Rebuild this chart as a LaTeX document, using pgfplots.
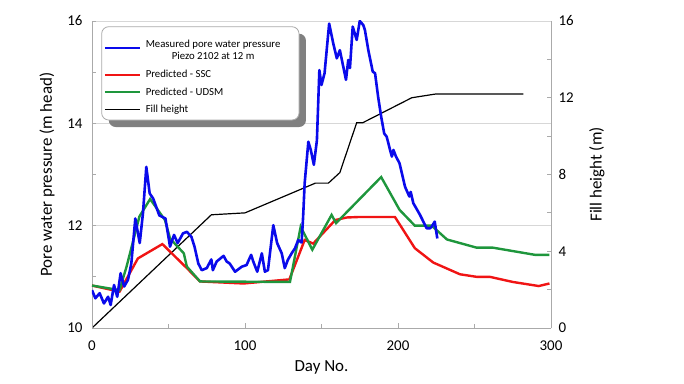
\documentclass[border=0pt]{standalone}
\usepackage{fontspec}
\setmainfont{Carlito}
\usepackage{pgfplots}
\pgfplotsset{compat=1.18}
\definecolor{meas}{RGB}{10,10,235}
\definecolor{ssc}{RGB}{240,20,20}
\definecolor{udsm}{RGB}{30,150,60}
\definecolor{axgray}{RGB}{170,170,170}
\definecolor{gridgray}{RGB}{215,215,215}
\definecolor{shadow}{RGB}{128,128,128}
\newlength\mw
\newcommand\lift[2]{\raisebox{#1}[8bp][2.5bp]{#2}}

\pgfplotsset{
  base/.style={
    scale only axis, width=459bp, height=307bp,
    at={(0,0)}, anchor=south west,
    xmin=0, xmax=300,
    tick align=inside,
    major tick length=4.5bp, minor tick length=4bp,
    axis line style={axgray, line width=0.8bp},
    every tick/.style={axgray, line width=0.8bp},
    tick label style={font=\fontsize{15}{17}\selectfont},
    label style={font=\fontsize{17}{19}\selectfont},
    /pgf/number format/assume math mode=true,
  },
  legend image code/.code={\draw[#1] (0bp,0bp) -- (35bp,0bp);},
}

\begin{document}
\begin{tikzpicture}
\path[use as bounding box] (-92bp,-56bp) rectangle (592bp,328bp);

% fill height, right axis (drawn first so it sits under the pore pressure lines)
\begin{axis}[base,
  axis y line*=right, axis x line=none,
  ymin=0, ymax=16, ytick={0,4,8,12,16}, minor y tick num=1,
  extra y ticks={5.33333,10.66667,16}, extra y tick labels={},
  extra y tick style={grid=major, major tick length=0pt, grid style={gridgray, line width=0.9bp}},
  ylabel={Fill height (m)},
  ylabel style={at={(axis description cs:1.1,0.5)}, anchor=center, rotate=0},
  yticklabel style={xshift=4bp},
]
\addplot[black, line width=1.2bp] coordinates {
(0,0)(78,5.9)(100,6.0)(146,7.55)(154.5,7.55)(162,8.1)(173,10.7)(177,10.7)
(209,12.0)(225,12.2)(282,12.2)};
\end{axis}

% pore water pressure, left axis
\begin{axis}[base,
  axis y line*=left, axis x line*=bottom,
  ymin=10, ymax=16, ytick={10,12,14,16}, minor y tick num=1,
  xtick={0,100,200,300}, minor x tick num=1,
  xlabel={Day No.}, ylabel={Pore water pressure (m head)},
  xlabel style={at={(axis description cs:0.5,-0.127)}, anchor=center},
  ylabel style={at={(axis description cs:-0.098,0.5)}, anchor=center},
  xticklabel style={yshift=-9bp},
  yticklabel style={xshift=-6bp},
  legend cell align=left,
  legend style={at={(axis description cs:0.025,0.948)}, anchor=north west,
    draw=none, fill=none,
    font=\fontsize{10.8}{12}\selectfont,
    inner xsep=0bp, inner ysep=0bp, row sep=3bp,
    nodes={inner xsep=4.5bp, inner ysep=2bp}},
]
\addlegendimage{meas, line width=2.6bp, yshift=-4bp}
\addlegendentry{\lift{0bp}{Measured pore water pressure}}
\addlegendimage{empty legend}
\addlegendentry{\settowidth\mw{Measured pore water pressure}\lift{4.5bp}{\makebox[\mw][c]{Piezo 2102 at 12 m}}}
\addlegendimage{ssc, line width=2.4bp, yshift=2bp}
\addlegendentry{\lift{2.5bp}{Predicted - SSC}}
\addlegendimage{udsm, line width=2.4bp, yshift=1.5bp}
\addlegendentry{\lift{1.5bp}{Predicted - UDSM}}
\addlegendimage{black, line width=1.2bp}
\addlegendentry{\lift{0.5bp}{Fill height}}

\addplot[ssc, line width=2.4bp, forget plot] coordinates {
(0,10.83)(18,10.71)(30,11.36)(46,11.64)(62,11.17)(70.6,10.91)(99,10.87)(129,10.95)
(139,11.72)(144.6,11.65)(159,12.11)(166.5,12.16)(175,12.17)(198,12.17)(211,11.56)
(223,11.28)(240.5,11.05)(251.4,11.0)(260,11.0)(275,10.9)(292,10.82)(299,10.87)};
\addplot[udsm, line width=2.4bp, forget plot] coordinates {
(0,10.83)(18,10.74)(22.6,11.2)(31,12.18)(38,12.52)(47.7,12.11)(51,11.75)(60,11.46)
(62,11.2)(70.6,10.91)(129.4,10.9)(136.4,11.98)(144,11.53)(156.6,12.21)(159.5,12.05)
(189,12.95)(201,12.31)(211,12.0)(222,12.0)(232,11.73)(251.4,11.57)(262,11.57)
(289.5,11.43)(299,11.43)};
\addplot[meas, line width=2.6bp, line join=round, forget plot] coordinates {
(0,10.74)(2.2,10.58)(5,10.68)(7.8,10.48)(10.5,10.61)(12.2,10.45)(14.4,10.84)(16.5,10.61)
(18.7,11.07)(21,10.81)(23.5,10.94)(25.7,11.26)(28.3,12.14)(31.2,11.66)(33.3,12.24)
(35.5,13.15)(37.7,12.63)(40,12.53)(44,12.2)(48,12.14)(51,11.59)(53.6,11.82)(56,11.66)
(59.5,11.85)(62,11.88)(65,11.78)(67,11.59)(69.5,11.26)(71.7,11.13)(75,11.17)(78,11.34)
(79,11.13)(81.5,11.3)(86,11.41)(88,11.3)(90,11.26)(93.5,11.1)(98,11.2)(101,11.23)
(104,11.43)(105.4,11.3)(108,11.1)(111,11.46)(113,11.1)(115,11.13)(118.5,12.01)
(121,11.66)(124,11.46)(126,11.17)(128,11.33)(130.5,11.46)(132.7,11.56)(134.8,11.72)
(137,11.67)(138,12.18)(139,12.83)(141.4,13.64)(143,13.48)(145,13.19)(147,13.67)
(148.6,15.04)(150,14.75)(152,14.98)(155,15.95)(157.7,15.56)(160,15.27)(162,15.43)
(164,15.14)(166,14.85)(167.5,15.24)(168.6,15.08)(170.4,15.89)(173,15.63)(175,16.0)
(177.3,15.92)(178.4,15.82)(180.6,15.43)(183.5,15.01)(185,14.98)(187,14.52)(189,14.13)
(191,13.8)(192.6,13.74)(194.8,13.48)(196,13.35)(197,13.48)(198.7,13.35)(201,13.22)
(204.6,12.76)(207.4,12.57)(208.3,12.66)(210,12.44)(214.4,12.21)(218.7,11.95)(221,11.95)
(222,11.98)(224,12.08)(225.7,11.75)};

% legend frame with its drop shadow
\fill[shadow, rounded corners=7bp] (axis description cs:0.0364,0.6547) rectangle (axis description cs:0.4662,0.9586);
\draw[axgray, line width=0.8bp, fill=white, rounded corners=7bp] (axis description cs:0.0211,0.6775) rectangle (axis description cs:0.451,0.9814);
\end{axis}
\end{tikzpicture}
\end{document}
